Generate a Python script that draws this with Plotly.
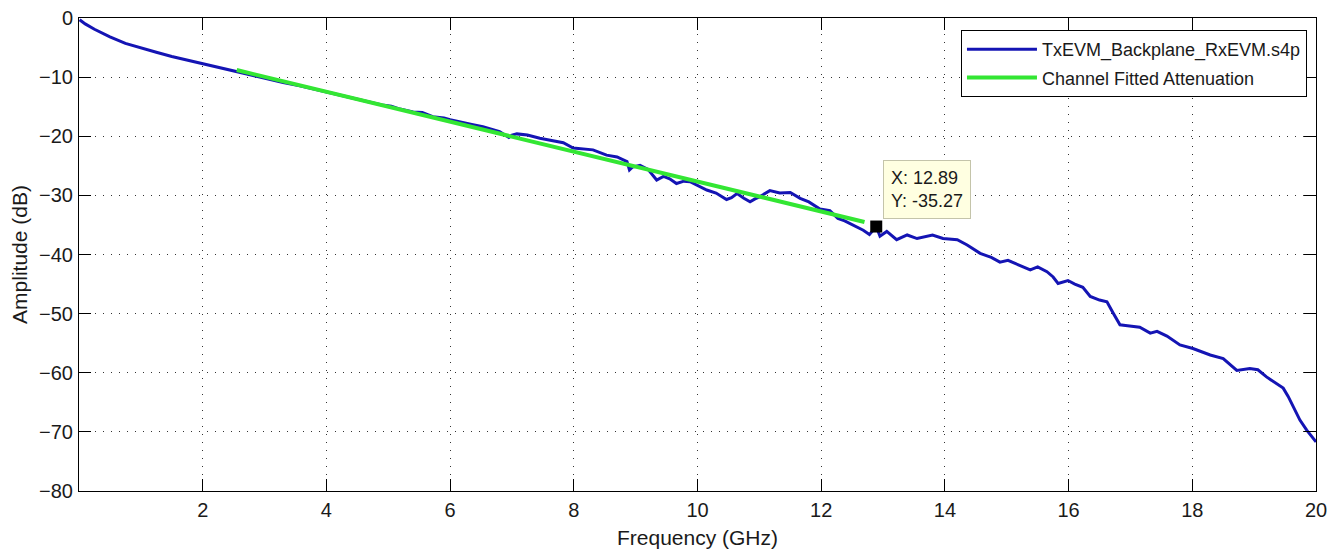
import plotly.graph_objects as go

freq_ghz = [0.01, 0.1, 0.25, 0.5, 0.75, 1.0, 1.25, 1.5, 1.75, 1.96, 2.25, 2.49, 2.75, 3.04, 3.3, 3.57,
            3.8, 4.0, 4.3, 4.45, 4.66, 4.9, 5.05, 5.19, 5.4, 5.55, 5.72, 5.9, 6.0, 6.2, 6.35,
            6.53, 6.7, 6.8, 6.95, 7.0, 7.08, 7.25, 7.45, 7.6, 7.83, 7.99, 8.15, 8.31, 8.53, 8.7,
            8.86, 8.9, 8.95, 9.07, 9.2, 9.34, 9.45, 9.55, 9.66, 9.78, 9.88, 10.0, 10.15, 10.3,
            10.47, 10.55, 10.64, 10.75, 10.85, 10.93, 11.01, 11.17, 11.33, 11.5, 11.66, 11.8,
            11.98, 12.14, 12.27, 12.38, 12.51, 12.68, 12.78, 12.89, 12.95, 13.06, 13.22, 13.39,
            13.55, 13.8, 13.97, 14.2, 14.36, 14.57, 14.75, 14.89, 15.02, 15.2, 15.38, 15.5,
            15.65, 15.75, 15.83, 15.99, 16.1, 16.23, 16.35, 16.5, 16.62, 16.72, 16.83, 16.92,
            17.04, 17.15, 17.32, 17.43, 17.59, 17.7, 17.8, 18.01, 18.15, 18.29, 18.5, 18.6,
            18.72, 18.93, 19.06, 19.2, 19.35, 19.47, 19.55, 19.63, 19.74, 19.85, 19.98, 20.0]
amp_db = [-0.3, -1.0, -1.9, -3.2, -4.3, -5.1, -5.8, -6.5, -7.1, -7.7, -8.4, -9.0, -9.6, -10.3, -10.9, -11.45,
          -12.0, -12.6, -13.3, -13.6, -14.15, -14.7, -14.9, -15.4, -15.9, -16.0, -16.7, -16.9, -17.2, -17.6, -18.0,
          -18.4, -18.9, -19.2, -20.2, -19.8, -19.6, -19.8, -20.35, -20.6, -21.1, -22.0, -22.1, -22.3, -23.2, -23.5,
          -24.3, -25.7, -25.2, -24.9, -25.6, -27.4, -26.8, -27.2, -28.0, -27.6, -27.7, -28.3, -29.1, -29.6,
          -30.7, -30.4, -29.7, -30.5, -31.1, -30.6, -30.2, -29.2, -29.6, -29.5, -30.5, -31.1,
          -32.3, -32.6, -33.9, -34.3, -35.0, -35.9, -36.6, -35.27, -36.9, -36.1, -37.5, -36.7,
          -37.3, -36.7, -37.3, -37.5, -38.4, -39.8, -40.5, -41.3, -41.0, -41.8, -42.6, -42.1,
          -42.9, -43.8, -44.9, -44.4, -45.0, -45.55, -47.1, -47.7, -48.0, -49.9, -51.9, -52.0,
          -52.2, -52.3, -53.3, -53.0, -53.8, -54.6, -55.3, -55.9, -56.4, -57.0, -57.6, -58.5,
          -59.6, -59.3, -59.5, -60.7, -61.8, -62.6, -64.0, -65.7, -68.0, -69.7, -71.5, -71.7]

# Fitted attenuation line
fit_freq_ghz = [2.55, 12.7]
fit_amp_db = [-8.8, -34.5]

# Data tip
tip_freq = [12.89]
tip_amp = [-35.27]
tip_text = "X: 12.89<br>Y: -35.27"

x_ticks = [2, 4, 6, 8, 10, 12, 14, 16, 18, 20]
y_ticks = [0, -10, -20, -30, -40, -50, -60, -70, -80]

FONT = "Liberation Sans, Arial, sans-serif"
TXT = "#1a1a1a"

fig = go.Figure()
fig.add_trace(go.Scatter(
    x=freq_ghz, y=amp_db, mode="lines", name="TxEVM_Backplane_RxEVM.s4p",
    line=dict(color="#1414B4", width=3), legendgroup="a"))
fig.add_trace(go.Scatter(
    x=fit_freq_ghz, y=fit_amp_db, mode="lines", name="Channel Fitted Attenuation",
    line=dict(color="#33E633", width=4), legendgroup="b"))
fig.add_trace(go.Scatter(
    x=tip_freq, y=tip_amp, mode="markers", showlegend=False,
    marker=dict(symbol="square", size=12, color="black")))

fig.add_annotation(
    x=tip_freq[0], y=tip_amp[0], xref="x", yref="y", text=tip_text,
    showarrow=False, xanchor="left", yanchor="bottom", xshift=7, yshift=8,
    align="left", bgcolor="#FFFFE1", bordercolor="#C4C4AA", borderwidth=1,
    borderpad=7, font=dict(family=FONT, size=18, color=TXT))

axis_common = dict(
    ticks="inside", ticklen=12, tickwidth=1, tickcolor="black",
    showline=True, linecolor="black", linewidth=1, mirror="ticks",
    showgrid=True, gridcolor="#333333", gridwidth=1, griddash="1px,7px",
    zeroline=False, automargin=False, ticklabeloverflow="allow",
    tickfont=dict(family=FONT, size=20, color=TXT),
)

# The page body adds an 8px margin, so the figure is 8px smaller on each axis
fig.update_layout(
    width=1328, height=542,
    margin=dict(l=71, r=20, t=10, b=59),
    paper_bgcolor="white", plot_bgcolor="white",
    font=dict(family=FONT, size=20, color=TXT),
    xaxis=dict(range=[0, 20], tickvals=x_ticks, ticklabelstandoff=1,
               title=dict(text="Frequency (GHz)", standoff=10,
                          font=dict(family=FONT, size=21, color=TXT)),
               **axis_common),
    yaxis=dict(range=[-80, 0], tickvals=y_ticks, ticklabelstandoff=1,
               title=dict(text="Amplitude (dB)", standoff=8,
                          font=dict(family=FONT, size=21, color=TXT)),
               **axis_common),
    legend=dict(x=0.9927, y=0.9746, xanchor="right", yanchor="top",
                bgcolor="white", bordercolor="black", borderwidth=1,
                itemwidth=70, tracegroupgap=2,
                font=dict(family=FONT, size=18, color=TXT)),
    showlegend=True,
)

fig.write_html("out.html")
